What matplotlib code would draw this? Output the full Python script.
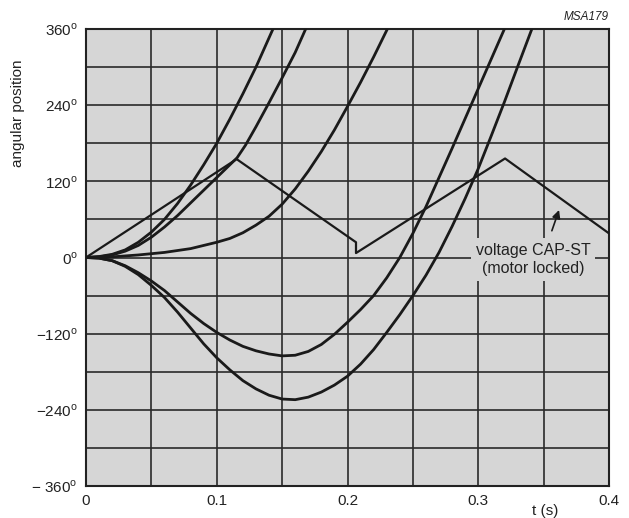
import matplotlib
matplotlib.use('Agg')
import matplotlib.pyplot as plt

plt.rcParams['font.family'] = ['Liberation Sans', 'DejaVu Sans']
plt.rcParams['mathtext.fontset'] = 'custom'
plt.rcParams['mathtext.rm'] = 'Liberation Sans'

# curves: time (s) / angle (deg)
t_a = [0, 0.01, 0.02, 0.03, 0.04, 0.05, 0.06, 0.07, 0.08, 0.09, 0.1, 0.11, 0.12, 0.13, 0.143]
deg_a = [0, 1.5, 5, 12, 24, 40, 60, 85, 114, 146, 180, 218, 258, 300, 360]

t_b = [0, 0.01, 0.02, 0.03, 0.04, 0.05, 0.06, 0.07, 0.08, 0.09, 0.1, 0.11, 0.1155,
       0.122, 0.13, 0.14, 0.15, 0.16, 0.168]
deg_b = [0, 1, 4, 10, 19, 32, 48, 66, 86, 106, 126, 146, 157,
         177, 206, 244, 283, 323, 360]

t_c = [0, 0.02, 0.04, 0.06, 0.08, 0.1, 0.11, 0.12, 0.13, 0.14, 0.15, 0.16, 0.17,
       0.18, 0.19, 0.2, 0.21, 0.22, 0.2305]
deg_c = [0, 1, 4, 8, 14, 24, 30, 39, 51, 65, 84, 108, 136,
         167, 201, 238, 276, 316, 360]

t_d = [0, 0.01, 0.02, 0.03, 0.04, 0.05, 0.06, 0.07, 0.08, 0.09, 0.1, 0.11, 0.12, 0.13,
       0.14, 0.15, 0.16, 0.17, 0.18, 0.19, 0.2, 0.21, 0.22, 0.23, 0.24, 0.25, 0.26,
       0.27, 0.28, 0.29, 0.3, 0.31, 0.32]
deg_d = [0, -1, -5, -13, -24, -37, -52, -70, -88, -104, -118, -130, -140, -147,
         -152, -155, -154, -148, -137, -121, -102, -82, -60, -32, 0, 38, 80,
         126, 172, 219, 266, 313, 360]

t_e = [0, 0.01, 0.02, 0.03, 0.04, 0.05, 0.06, 0.07, 0.08, 0.09, 0.1, 0.11, 0.12, 0.13,
       0.14, 0.15, 0.16, 0.17, 0.18, 0.19, 0.2, 0.21, 0.22, 0.23, 0.24, 0.25, 0.26,
       0.27, 0.28, 0.29, 0.3, 0.31, 0.32, 0.33, 0.341]
deg_e = [0, -1, -5, -14, -27, -44, -63, -86, -111, -136, -158, -177, -194, -207,
         -217, -223, -224, -220, -212, -201, -187, -168, -145, -118, -90, -60, -28,
         8, 49, 93, 140, 192, 245, 300, 360]

# voltage CAP-ST (motor locked)
t_v = [0, 0.1152, 0.2065, 0.2065, 0.3205, 0.4]
deg_v = [0, 155, 24, 7, 156, 38]

y_ticks = [-360, -240, -120, 0, 120, 240, 360]
y_labels = ['\u2212 360$^{\\rm o}$', '\u2212240$^{\\rm o}$', '\u2212120$^{\\rm o}$', '0$^{\\rm o}$',
            '120$^{\\rm o}$', '240$^{\\rm o}$', '360$^{\\rm o}$']
x_ticks = [0, 0.1, 0.2, 0.3, 0.4]
x_labels = ['0', '0.1', '0.2', '0.3', '0.4']

bg = '#d6d6d6'
ink = '#1a1a1a'

fig = plt.figure(figsize=(6.29, 5.18), dpi=100)
ax = fig.add_axes([86 / 629, 32 / 518, 523 / 629, 457 / 518])
ax.set_facecolor(bg)

# grid
for x in [0.05 * i for i in range(1, 8)]:
    ax.axvline(x, color='#2a2a2a', lw=1.2, zorder=1)
for y in range(-300, 360, 60):
    ax.axhline(y, color='#2a2a2a', lw=1.2, zorder=1)

for tt, dd in [(t_a, deg_a), (t_b, deg_b), (t_c, deg_c), (t_d, deg_d), (t_e, deg_e)]:
    ax.plot(tt, dd, color=ink, lw=2.0, zorder=3, solid_capstyle='round', solid_joinstyle='round')
ax.plot(t_v, deg_v, color=ink, lw=1.6, zorder=3)

ax.set_xlim(0, 0.4)
ax.set_ylim(-360, 360)
ax.set_xticks(x_ticks)
ax.set_xticklabels(x_labels)
ax.set_yticks(y_ticks)
ax.set_yticklabels(y_labels)
ax.tick_params(length=0, labelsize=11, colors='#222222', pad=6)
for s in ax.spines.values():
    s.set_color('#222222')
    s.set_linewidth(1.5)

ax.text(0.342, -3, 'voltage CAP-ST\n(motor locked)', ha='center', va='center',
        fontsize=11.5, color='#222222', linespacing=1.3, zorder=5,
        bbox=dict(facecolor=bg, edgecolor='none', boxstyle='square,pad=0.3'))
ax.annotate('', xy=(0.3625, 79), xytext=(0.3556, 38),
            arrowprops=dict(arrowstyle='-|>', color=ink, lw=1.2, mutation_scale=12), zorder=6)

fig.text(18 / 629, 1 - 113 / 518, 'angular position', rotation=90, ha='center', va='center',
         fontsize=11, color='#222222')
fig.text(545 / 629, 1 - 511 / 518, 't (s)', ha='center', va='center', fontsize=11, color='#222222')
fig.text(609 / 629, 1 - 17 / 518, 'MSA179', ha='right', va='center', fontsize=8.5,
         style='italic', color='#222222')

fig.savefig('out.png', dpi=100, facecolor='white')
